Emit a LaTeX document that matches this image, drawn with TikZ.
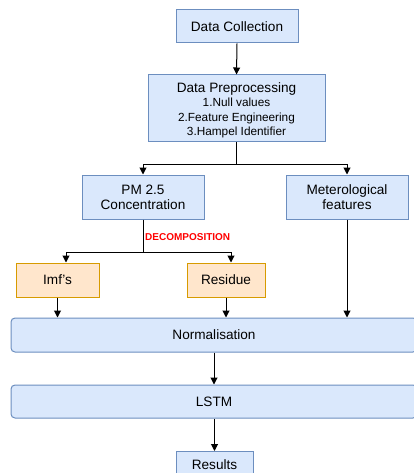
\documentclass[tikz,border=0pt]{standalone}
\usepackage{fontspec}
\setmainfont{Liberation Sans}
\usetikzlibrary{arrows.meta}
\definecolor{bfill}{HTML}{DAE8FC}
\definecolor{bdraw}{HTML}{6C8EBF}
\definecolor{ofill}{HTML}{FFE6CC}
\definecolor{odraw}{HTML}{D79B00}
\definecolor{txt}{HTML}{000000}
\begin{document}
\begin{tikzpicture}[x=1pt,y=-1pt,
  bluebox/.style={draw=bdraw,fill=bfill,line width=1pt,inner sep=0pt,align=center,text=txt,font=\fontsize{13.6}{15}\selectfont},
  orbox/.style={draw=odraw,fill=ofill,line width=1pt,inner sep=0pt,align=center,text=txt,font=\fontsize{13.6}{15}\selectfont},
  wide/.style={bluebox,rounded corners=4pt},
  arr/.style={line width=1pt,-{Triangle[length=7pt,width=7pt]}},
  ln/.style={line width=1pt}]
\useasboundingbox (0,0) rectangle (413,473);
\node[bluebox,minimum width=122pt,minimum height=33pt] (dc) at (237,26.5) {Data Collection};
\node[bluebox,minimum width=177pt,minimum height=67pt] (dp) at (236.5,108.5) {};
\node[inner sep=0pt,align=center,text=txt,font=\fontsize{13.6}{15}\selectfont] (dpt) at (236.5,110.5) {Data Preprocessing\\[-1pt]
  {\fontsize{11.8}{13.3}\selectfont 1.Null values}\\[-0.5pt]
  {\fontsize{11.8}{13.3}\selectfont 2.Feature Engineering}\\[-0.5pt]
  {\fontsize{11.8}{13.3}\selectfont 3.Hampel Identifier}};
\node[bluebox,minimum width=122pt,minimum height=44pt] (pm) at (143,197) {PM 2.5\\Concentration};
\node[bluebox,minimum width=122pt,minimum height=44pt] (met) at (347,197) {Meterological\\features};
\node[orbox,minimum width=83pt,minimum height=34pt] (imf) at (57.5,280) {Imf's};
\node[orbox,minimum width=78pt,minimum height=34pt] (res) at (226,280) {Residue};
\node[wide,minimum width=406pt,minimum height=34pt] (norm) at (214,335) {Normalisation};
\node[wide,minimum width=406pt,minimum height=33pt] (lstm) at (214,401.5) {LSTM};
\node[bluebox,minimum width=77pt,minimum height=30pt,anchor=north] (resu) at (214.5,451) {\raisebox{4pt}{Results}};
\node[anchor=west,text=red,inner sep=0pt,font=\fontsize{10}{12}\selectfont\bfseries] (dec) at (145,237) {DECOMPOSITION};
\draw[arr] (dc.south) -- (dp.north);
\coordinate (j1) at (dp.south |- 0,164);
\draw[ln] (dp.south) -- (j1);
\draw[arr] (j1) -| (pm.north);
\draw[arr] (j1) -| (met.north);
\coordinate (j2) at (pm.south |- 0,252);
\draw[ln] (pm.south) -- (j2);
\draw[arr] (j2) -| ([xshift=8.5pt]imf.north);
\draw[arr] (j2) -| ([xshift=5pt]res.north);
\draw[arr] (imf.south) -- (imf.south |- norm.north);
\draw[arr] (res.south) -- (res.south |- norm.north);
\draw[arr] (met.south) -- (met.south |- norm.north);
\draw[arr] (norm.south) -- (lstm.north);
\draw[arr] ([xshift=0.5pt]lstm.south) -- (resu.north);
\end{tikzpicture}
\end{document}
